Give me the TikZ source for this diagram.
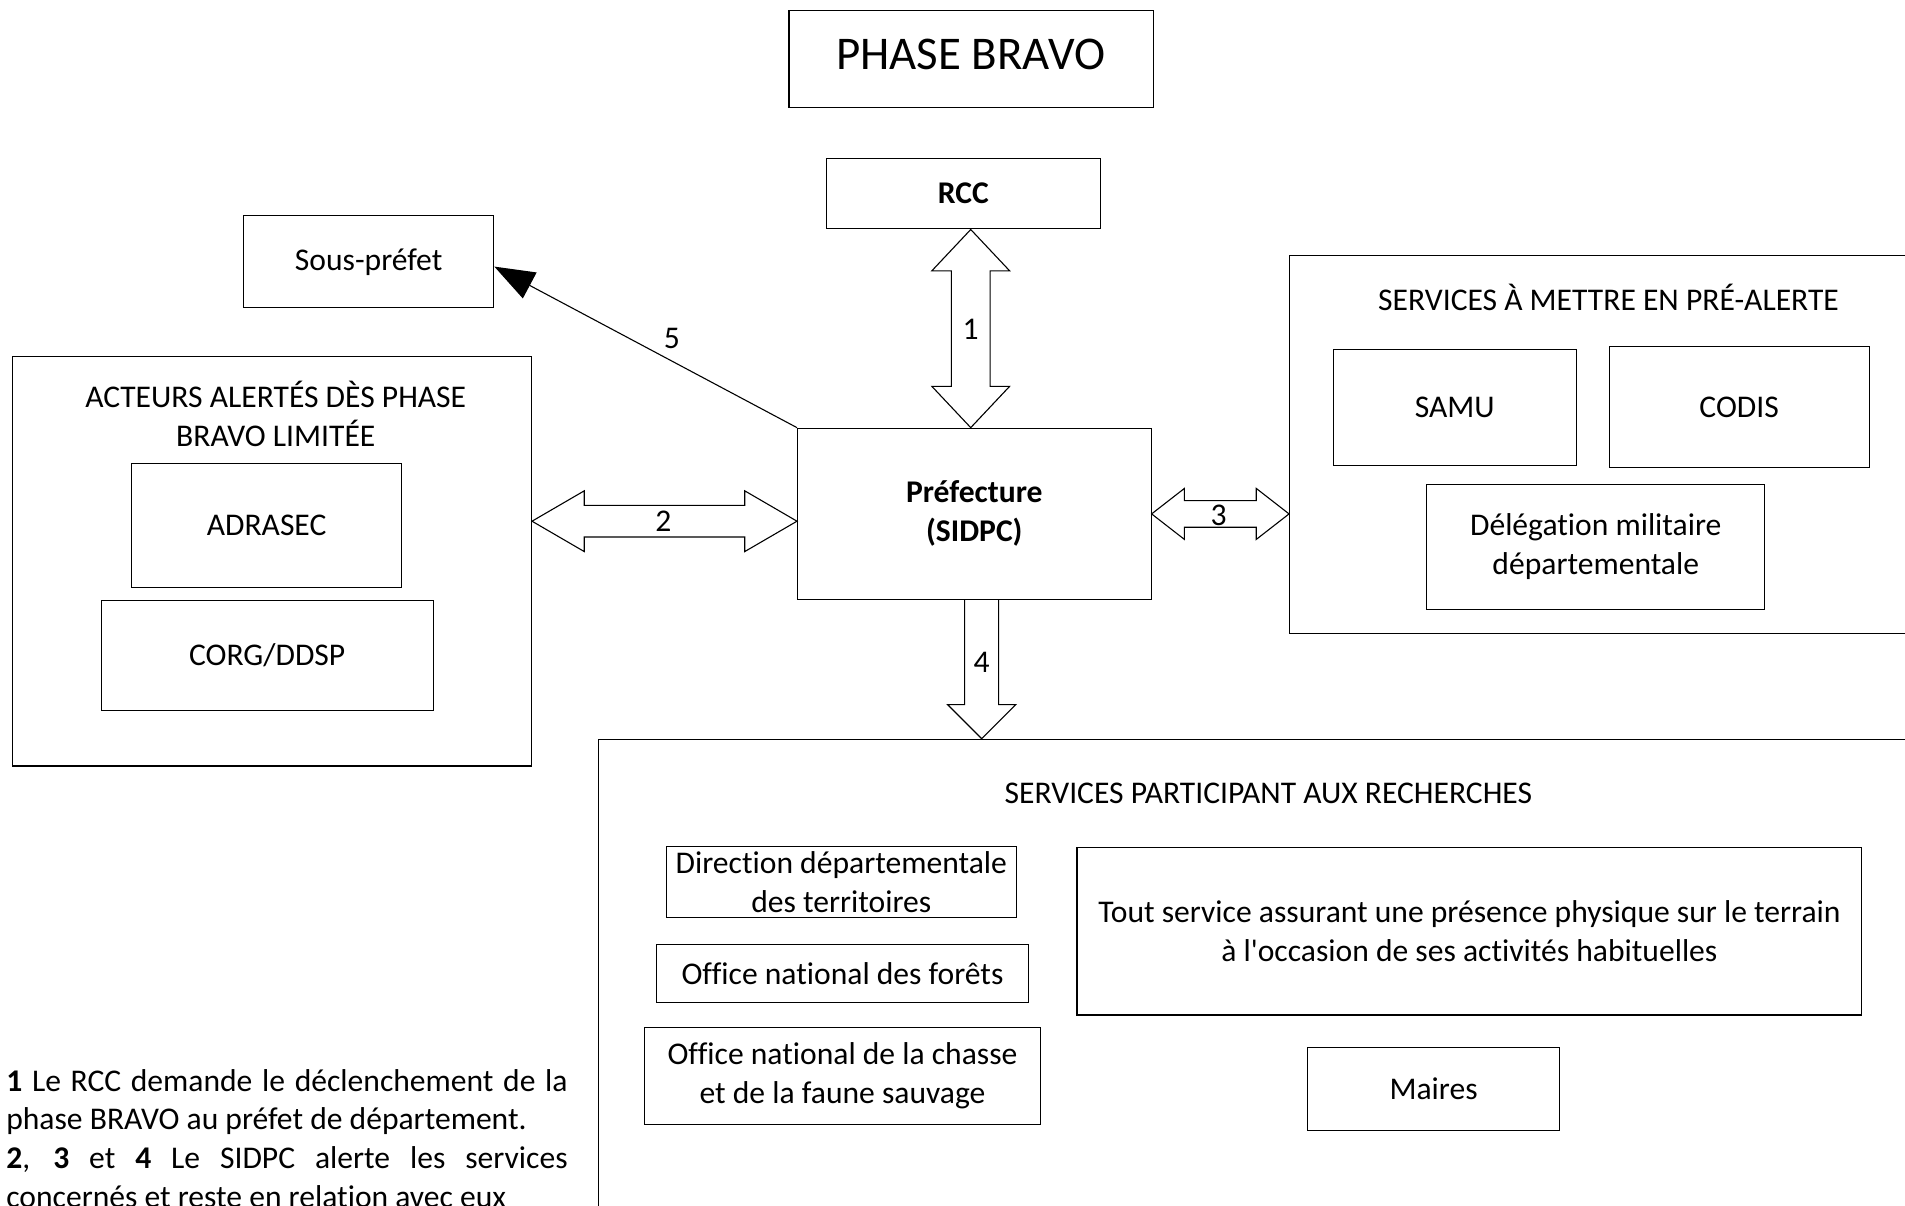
\documentclass[tikz,border=0pt]{standalone}
\usepackage{fontspec}
\setmainfont{Carlito}[Ligatures={TeXOff,NoCommon,NoRequired,NoContextual}, Contextuals={NoAlternate}]
\usetikzlibrary{calc,arrows.meta}
\newcommand\bodyfont{\fontsize{26}{32}\selectfont}
\newcommand\bigtitlefont{\fontsize{38.6}{46}\selectfont}
\tikzset{
  box/.style={draw=black, line width=0.9pt, rectangle, inner sep=0pt, align=center, font=\bodyfont, anchor=north west},
  lbl/.style={inner sep=0pt, font=\bodyfont, align=center},
  blockarrow/.style={draw=black, line width=0.9pt, fill=white, line join=miter},
}
\begin{document}
\begin{tikzpicture}[x=1pt,y=-1pt]
\useasboundingbox (0,0) rectangle (1568,992);
% title
\node[box, minimum width=300, minimum height=80] (title) at (649,8) {};
\node[lbl, font=\bigtitlefont] (titletext) at (799,45) {PHASE BRAVO};
% RCC
\node[box, minimum width=225, minimum height=58] (rcc) at (680,130) {\textbf{RCC}};
% Sous-prefet
\node[box, minimum width=206, minimum height=76] (sous) at (200,177) {Sous-préfet};
% Acteurs container
\node[box, minimum width=427, minimum height=337] (acteurs) at (10,293) {};
\node[lbl] (acttitle) at (227,341) {ACTEURS ALERTÉS DÈS PHASE\\BRAVO LIMITÉE};
\node[box, minimum width=222, minimum height=102] (adrasec) at (108,381) {ADRASEC};
\node[box, minimum width=273, minimum height=90] (corg) at (83,494) {CORG/DDSP};
% Prefecture
\node[box, minimum width=291, minimum height=141] (pref) at (656,352) {\textbf{Préfecture}\\\textbf{(SIDPC)}};
% Pre-alerte container
\node[box, minimum width=539, minimum height=311] (prealerte) at (1061,210) {};
\node[lbl] (pretitle) at (1324,245) {SERVICES À METTRE EN PRÉ-ALERTE};
\node[box, minimum width=200, minimum height=96] (samu) at (1097,287) {SAMU};
\node[box, minimum width=214, minimum height=99] (codis) at (1324,285) {CODIS};
\node[box, minimum width=278, minimum height=103] (deleg) at (1174,398) {Délégation militaire\\départementale};
% Recherches container
\node[box, minimum width=1108, minimum height=442] (rech) at (492,608) {};
\node[lbl] (rechtitle) at (1044,653) {SERVICES PARTICIPANT AUX RECHERCHES};
\node[box, minimum width=288, minimum height=59] (ddt) at (548,696) {Direction départementale\\des territoires};
\node[box, minimum width=306, minimum height=48] (onf) at (540,777) {Office national des forêts};
\node[box, minimum width=326, minimum height=80] (oncfs) at (530,845) {Office national de la chasse\\et de la faune sauvage};
\node[box, minimum width=646, minimum height=138] (tout) at (886,697) {Tout service assurant une présence physique sur le terrain\\à l'occasion de ses activités habituelles};
\node[box, minimum width=207, minimum height=68] (maires) at (1076,862) {Maires};
% arrow 1
\coordinate (a1x) at (799,0);
\draw[blockarrow] let \p1=(a1x |- rcc.south), \p2=(a1x |- pref.north) in
  (\p1) -- (\x1+32pt,\y1-34pt) -- (\x1+16pt,\y1-34pt) -- (\x1+16pt,\y2+34pt) -- (\x1+32pt,\y2+34pt) -- (\p2)
  -- (\x1-32pt,\y2+34pt) -- (\x1-16pt,\y2+34pt) -- (\x1-16pt,\y1-34pt) -- (\x1-32pt,\y1-34pt) -- cycle;
\node[lbl] (l1) at (799,271) {1};
% arrow 2
\coordinate (a2y) at (0,429);
\draw[blockarrow] let \p1=(acteurs.east |- a2y), \p2=(pref.west |- a2y) in
  (\p1) -- (\x1+43pt,\y1+25pt) -- (\x1+43pt,\y1+13pt) -- (\x2-43pt,\y1+13pt) -- (\x2-43pt,\y1+25pt) -- (\p2)
  -- (\x2-43pt,\y1-25pt) -- (\x2-43pt,\y1-13pt) -- (\x1+43pt,\y1-13pt) -- (\x1+43pt,\y1-25pt) -- cycle;
\node[lbl] (l2) at (546,429) {2};
% arrow 3
\coordinate (a3y) at (0,423);
\draw[blockarrow] let \p1=(pref.east |- a3y), \p2=(prealerte.west |- a3y) in
  (\p1) -- (\x1+27pt,\y1+21pt) -- (\x1+27pt,\y1+11pt) -- (\x2-27pt,\y1+11pt) -- (\x2-27pt,\y1+21pt) -- (\p2)
  -- (\x2-27pt,\y1-21pt) -- (\x2-27pt,\y1-11pt) -- (\x1+27pt,\y1-11pt) -- (\x1+27pt,\y1-21pt) -- cycle;
\node[lbl] (l3) at (1003,424) {3};
% arrow 4
\coordinate (a4x) at (808,0);
\draw[blockarrow] let \p1=(a4x |- pref.south), \p2=(a4x |- rech.north) in
  (\x1-14pt,\y1) -- (\x1-14pt,\y2+28pt) -- (\x1-28pt,\y2+28pt) -- (\p2) -- (\x1+28pt,\y2+28pt) -- (\x1+14pt,\y2+28pt) -- (\x1+14pt,\y1);
\node[lbl] (l4) at (808,545) {4};
% arrow 5
\coordinate (a5end) at ($(sous.east)+(0,4)$);
\draw[line width=0.9pt, -{Triangle[length=33pt,width=24pt]}] (pref.north west) -- (a5end);
\node[lbl] (l5) at (553,279) {5};
% legend text
\node[inner sep=0pt, anchor=base west, font=\bodyfont] (t1) at (5,898) {\makebox[462pt][s]{\textbf{1} Le RCC demande le déclenchement de la}};
\node[inner sep=0pt, anchor=base west, font=\bodyfont] (t2) at (5,930) {phase BRAVO au préfet de département.};
\node[inner sep=0pt, anchor=base west, font=\bodyfont] (t3) at (5,962) {\makebox[462pt][s]{\textbf{2}, \textbf{3} et \textbf{4} Le SIDPC alerte les services}};
\node[inner sep=0pt, anchor=base west, font=\bodyfont] (t4) at (5,994) {concernés et reste en relation avec eux};
\end{tikzpicture}
\end{document}
